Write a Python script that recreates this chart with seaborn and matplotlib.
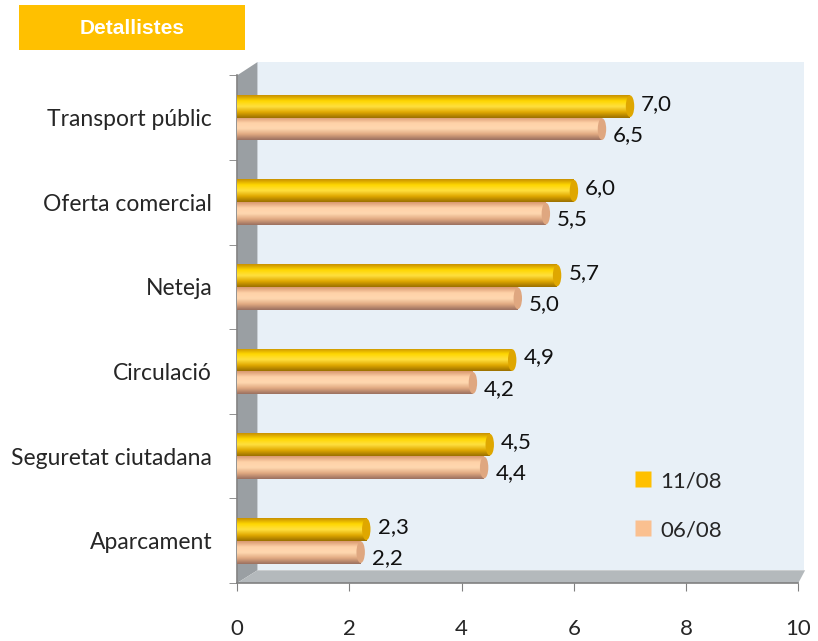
import numpy as np
import pandas as pd
import seaborn as sns
import matplotlib.pyplot as plt
from matplotlib.patches import Polygon, Rectangle, Ellipse
from matplotlib.colors import LinearSegmentedColormap

categories = ['Transport públic', 'Oferta comercial', 'Neteja',
              'Circulació', 'Seguretat ciutadana', 'Aparcament']
vals_1108 = [7.0, 6.0, 5.7, 4.9, 4.5, 2.3]
vals_0608 = [6.5, 5.5, 5.0, 4.2, 4.4, 2.2]
series = ['11/08', '06/08']
x_ticks = [0, 2, 4, 6, 8, 10]

df = pd.DataFrame({
    'cat': categories * 2,
    'val': vals_1108 + vals_0608,
    'serie': [series[0]] * 6 + [series[1]] * 6,
})

sns.set_style('white')
plt.rcParams['font.family'] = ['Lato', 'DejaVu Sans']

fig = plt.figure(figsize=(8.18, 6.41), dpi=100)
ax = fig.add_axes([0.29, 0.0905, 0.686, 0.792])
ax.set_facecolor('white')

palette = {'11/08': '#FFC000', '06/08': '#FAC090'}
sns.barplot(data=df, y='cat', x='val', hue='serie', palette=palette,
            order=categories, hue_order=series, width=0.54, ax=ax,
            legend=False, zorder=3, edgecolor='none')

ax.set_xlim(0, 10)
ax.set_ylim(5.5, -0.5)

# 3D-ish walls: back wall, left wall, floor (axes coords)
tr = ax.transAxes
ax.add_patch(Polygon([[0.036, 0.025], [1.01, 0.025], [1.01, 1.026], [0.036, 1.026]],
                     closed=True, transform=tr, facecolor='#E8F0F7', edgecolor='none',
                     zorder=0, clip_on=False))
ax.add_patch(Polygon([[0, 0], [0.036, 0.025], [0.036, 1.026], [0, 1.0]],
                     closed=True, transform=tr, facecolor='#9A9FA3', edgecolor='none', zorder=1, clip_on=False))
ax.add_patch(Polygon([[0, 0], [1.0, 0], [1.012, 0.025], [0.036, 0.025]],
                     closed=True, transform=tr, facecolor='#B4B9BC', edgecolor='none', zorder=1, clip_on=False))

# cylinder shading on each bar
cmaps = {
    '11/08': LinearSegmentedColormap.from_list('y', ['#C89000', '#FFD700', '#FFE040', '#E0A800', '#9A7000']),
    '06/08': LinearSegmentedColormap.from_list('p', ['#D89870', '#FFD2A8', '#FFD8B0', '#E0A880', '#9A7060']),
}
grad = np.linspace(0, 1, 64).reshape(-1, 1)
bars = [p for p in ax.patches if isinstance(p, Rectangle) and p.get_height() > 0
        and p.get_width() > 0 and p.get_zorder() == 3]
for i, p in enumerate(bars):
    s = series[0] if i < 6 else series[1]
    x0, y0, w, h = p.get_x(), p.get_y(), p.get_width(), p.get_height()
    im = ax.imshow(grad, extent=(x0, x0 + w, y0 + h, y0), aspect='auto',
                   cmap=cmaps[s], zorder=3.5, interpolation='bicubic')
    im.set_clip_path(p)
    cap = Ellipse((x0 + w, y0 + h / 2), 0.15, h * 0.95,
                  facecolor=cmaps[s](0.75), edgecolor='none', zorder=3.6)
    ax.add_patch(cap)
    txt = f'{w:.1f}'.replace('.', ',')
    ax.text(x0 + w + 0.2, y0 + h / 2 + (-0.03 if s == '11/08' else 0.07), txt,
            va='center', ha='left', fontsize=16, color='#111111', zorder=5)

ax.set_xlim(0, 10)
ax.set_ylim(5.5, -0.5)
ax.set_xticks(x_ticks)
ax.set_xticklabels([str(t) for t in x_ticks], fontsize=16)
ax.set_yticks(range(len(categories)))
ax.set_yticklabels(categories, fontsize=16.5)
ax.set_xlabel('')
ax.set_ylabel('')
ax.tick_params(axis='y', length=0, pad=18)
ax.tick_params(axis='x', length=6, color='#808080', pad=20, bottom=True)
ax.set_yticks(np.arange(-0.5, 6.0, 1.0), minor=True)
ax.tick_params(axis='y', which='minor', length=6, color='#808080', left=True)

for side in ['top', 'right']:
    ax.spines[side].set_visible(False)
for side in ['left', 'bottom']:
    ax.spines[side].set_color('#808080')
    ax.spines[side].set_linewidth(1.2)
    ax.spines[side].set_zorder(2)

# legend
handles = [plt.Line2D([], [], marker='s', linestyle='none', markersize=11,
                      markerfacecolor=palette[s], markeredgecolor='none') for s in series]
ax.legend(handles, series, loc='lower right', bbox_to_anchor=(0.9, 0.045),
          frameon=False, fontsize=16, labelspacing=1.3, handletextpad=0.3,
          handlelength=1.0)

# title box
fig.patches.append(Rectangle((19 / 818, 1 - 50 / 641), 226 / 818, 45 / 641,
                             transform=fig.transFigure, facecolor='#FFC000', edgecolor='none'))
fig.text(132 / 818, 1 - 29 / 641, 'Detallistes', color='white', fontsize=15,
         fontweight='bold', ha='center', va='center', family='Liberation Sans')

fig.savefig('out.png', dpi=100)
